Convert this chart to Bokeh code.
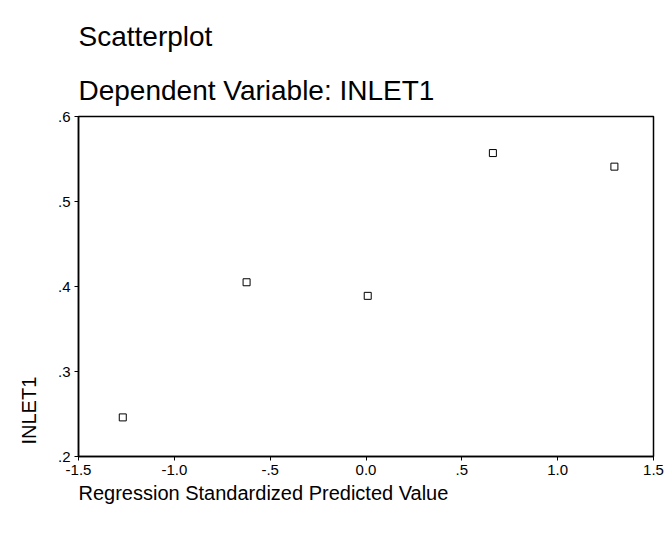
from bokeh.plotting import figure
from bokeh.models import Range1d, FixedTicker, Title, ColumnDataSource
from bokeh.embed import file_html
from bokeh.resources import INLINE

# Data
predicted_std = [-1.269, -0.623, 0.009, 0.662, 1.296]
inlet1 = [0.246, 0.405, 0.389, 0.557, 0.541]

x_ticks = [-1.5, -1.0, -0.5, 0.0, 0.5, 1.0, 1.5]
x_tick_labels = ["-1.5", "-1.0", "-.5", "0.0", ".5", "1.0", "1.5"]
y_ticks = [0.2, 0.3, 0.4, 0.5, 0.6]
y_tick_labels = [".2", ".3", ".4", ".5", ".6"]

title_text = "Scatterplot"
subtitle_text = "Dependent Variable: INLET1"
x_label = "Regression Standardized Predicted Value"
y_label = "INLET1"

FONT = "Liberation Sans"

src = ColumnDataSource(dict(x=predicted_std, y=inlet1))

p = figure(
    frame_width=575, frame_height=340,
    min_border_left=78, min_border_right=19,
    min_border_top=116, min_border_bottom=82,
    x_range=Range1d(-1.5, 1.5), y_range=Range1d(0.2, 0.6),
    output_backend="svg", toolbar_location=None, title=None,
)
p.background_fill_color = "white"
p.border_fill_color = "white"
p.outline_line_color = "black"
p.outline_line_width = 1.5
p.grid.visible = False

p.scatter("x", "y", source=src, marker="square", size=7,
          fill_color=None, line_color="black", line_width=1)

for ax, ticks, labels in ((p.xaxis[0], x_ticks, x_tick_labels),
                          (p.yaxis[0], y_ticks, y_tick_labels)):
    ax.ticker = FixedTicker(ticks=ticks)
    ax.major_label_overrides = dict(zip(ticks, labels))
    ax.minor_tick_line_color = None
    ax.major_tick_in = 0
    ax.major_tick_out = 4
    ax.axis_line_width = 1.5
    ax.axis_line_color = "black"
    ax.major_tick_line_color = "black"
    ax.major_label_text_font = FONT
    ax.major_label_text_font_size = "15px"
    ax.major_label_text_color = "black"
    ax.major_label_standoff = 4

# titles above (later added = further out)
p.add_layout(Title(text=subtitle_text, text_font=FONT, text_font_size="28px",
                   text_color="black", text_font_style="normal",
                   align="left", standoff=22), "above")
p.add_layout(Title(text=title_text, text_font=FONT, text_font_size="28px",
                   text_color="black", text_font_style="normal",
                   align="left", standoff=20), "above")

# x-axis label (left aligned) below
p.add_layout(Title(text=x_label, text_font=FONT, text_font_size="20px",
                   text_color="black", text_font_style="normal",
                   align="left", standoff=4), "below")

# y-axis label near bottom of left side
p.add_layout(Title(text=y_label, text_font=FONT, text_font_size="20px",
                   text_color="black", text_font_style="normal",
                   align="left", offset=12, standoff=29), "left")

open("out.html", "w").write(file_html(p, INLINE))
